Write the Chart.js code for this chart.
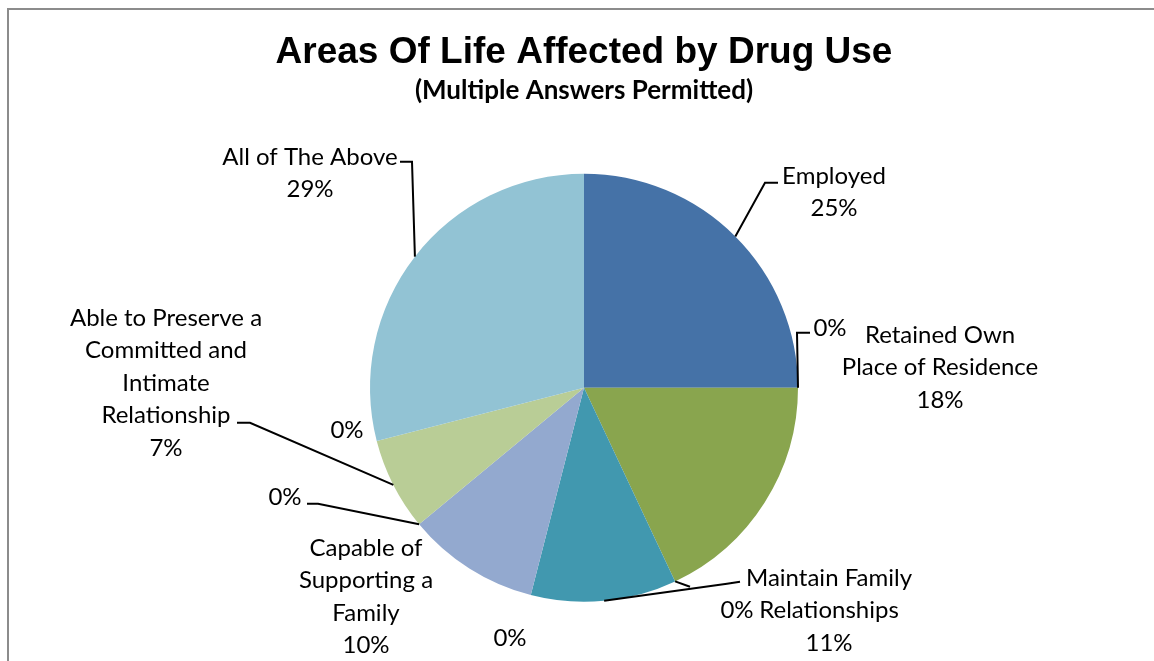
<!DOCTYPE html>
<html>
<head>
<meta charset="utf-8">
<script src="https://cdn.jsdelivr.net/npm/chart.js@4/dist/chart.umd.min.js"></script>
<style>
  html, body { margin: 0; padding: 0; background: #ffffff; }
  #wrap { width: 1154px; height: 661px; position: relative; }
</style>
</head>
<body>
<div id="wrap"><canvas id="c" width="1154" height="661"></canvas></div>
<script>
// ---- data ----
const chartTitle = "Areas Of Life Affected by Drug Use";
const chartSubtitle = "(Multiple Answers Permitted)";
const categories = [
  "Employed", "",
  "Retained Own Place of Residence", "",
  "Maintain Family Relationships", "",
  "Capable of Supporting a Family", "",
  "Able to Preserve a Committed and Intimate Relationship", "",
  "All of The Above"
];
const percentages = [25, 0, 18, 0, 11, 0, 10, 0, 7, 0, 29];
const sliceColors = ["#4572A7", "#AA4643", "#89A54E", "#71588F", "#4198AF", "#DB843D",
                     "#93A9CF", "#D19392", "#B9CD96", "#A99BBD", "#92C3D4"];

// ---- label layout (wrapping + placement relative to the pie centre) ----
const labelWrap = [
  ["Employed"], [],
  ["Retained Own", "Place of Residence"], [],
  ["Maintain Family", "Relationships"], [],
  ["Capable of", "Supporting a", "Family"], [],
  ["Able to Preserve a", "Committed and", "Intimate", "Relationship"], [],
  ["All of The Above"]
];
// text: first line centre offset; leader: list of offsets after the arc anchor (null = none)
const labelPlacement = [
  { text: [250, -212], leader: [[181, -205], [194, -205]] },
  { text: [246, -60],  leader: [[213, -55], [226, -55]] },
  { text: [356, -53],  leader: null },
  { text: [153, 222],  leader: [[106, 199]] },
  { text: [245, 190],  leader: [[143, 196], [156, 194]] },
  { text: [-74, 250],  leader: null },
  { text: [-218, 160], leader: null },
  { text: [-299, 109], leader: [[-266, 116], [-277, 116]] },
  { text: [-418, -70], leader: [[-334, 35], [-347, 35]] },
  { text: [-237, 42],  leader: null },
  { text: [-274, -231], leader: [[-172, -226], [-184, -226]] }
];
const labelFont = "24px Lato";
const lineGap = 32.5;

const labelPlugin = {
  id: 'excelLabels',
  beforeDraw(chart) {
    const ctx = chart.ctx;
    ctx.save();
    ctx.fillStyle = '#ffffff';
    ctx.fillRect(0, 0, chart.width, chart.height);
    ctx.strokeStyle = '#8c8c8c';
    ctx.lineWidth = 2;
    ctx.strokeRect(8, 9, 1300, 800);
    ctx.restore();
  },
  afterDatasetsDraw(chart) {
    const ctx = chart.ctx;
    const meta = chart.getDatasetMeta(0);
    const total = percentages.reduce((a, b) => a + b, 0);
    ctx.save();
    meta.data.forEach((arc, i) => {
      const p = arc.getProps(['x', 'y', 'startAngle', 'endAngle', 'outerRadius'], true);
      const cx = p.x, cy = p.y;
      const mid = (p.startAngle + p.endAngle) / 2;
      const ax = cx + Math.cos(mid) * p.outerRadius;
      const ay = cy + Math.sin(mid) * p.outerRadius;
      const pl = labelPlacement[i];
      if (pl.leader) {
        ctx.beginPath();
        ctx.strokeStyle = '#000000';
        ctx.lineWidth = 2;
        ctx.moveTo(ax, ay);
        pl.leader.forEach(o => ctx.lineTo(cx + o[0], cy + o[1]));
        ctx.stroke();
      }
      const pct = Math.round(percentages[i] / total * 100) + '%';
      const lines = labelWrap[i].concat([pct]);
      ctx.font = labelFont;
      ctx.fillStyle = '#000000';
      ctx.textAlign = 'center';
      ctx.textBaseline = 'middle';
      lines.forEach((t, k) => {
        ctx.fillText(t, cx + pl.text[0], cy + pl.text[1] + k * lineGap);
      });
    });
    ctx.restore();
  }
};

new Chart(document.getElementById('c'), {
  type: 'pie',
  data: {
    labels: categories,
    datasets: [{
      data: percentages,
      backgroundColor: sliceColors,
      borderWidth: 0,
      hoverOffset: 0,
      offset: 0,
      radius: 214
    }]
  },
  options: {
    responsive: false,
    animation: false,
    events: [],
    layout: { padding: { left: 14, right: 0, top: 0, bottom: 59 } },
    plugins: {
      legend: { display: false },
      tooltip: { enabled: false },
      title: {
        display: true,
        text: chartTitle,
        color: '#000000',
        font: { family: 'Liberation Sans', size: 37, weight: 'bold', lineHeight: 1.2 },
        padding: { top: 31, bottom: 0 }
      },
      subtitle: {
        display: true,
        text: chartSubtitle,
        color: '#000000',
        font: { family: 'Lato', size: 26, weight: 'bold', lineHeight: 1.2 },
        padding: { top: 0, bottom: 67 }
      }
    }
  },
  plugins: [labelPlugin]
});
</script>
</body>
</html>
